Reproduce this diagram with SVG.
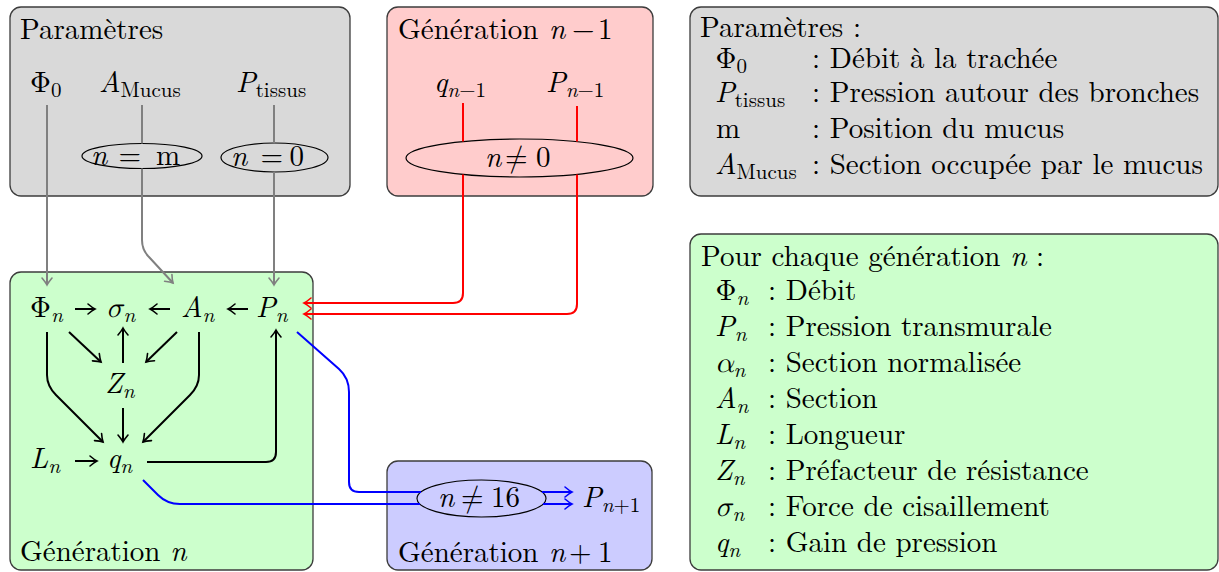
<svg xmlns="http://www.w3.org/2000/svg" width="1219" height="572" viewBox="0 0 1219 572">
<style>
text { font-size: 29px; fill: #000; }
.i { font-style: italic; }
.s { font-size: 21px; }
.box { stroke: #3c3c3c; stroke-width: 1.3; }
.gray { fill: #d9d9d9; }
.red { fill: #ffcccc; }
.green { fill: #ccffcc; }
.blue { fill: #ccccff; }
.ell { fill: none; stroke: #000; stroke-width: 1.2; }
.c { fill: none; stroke-width: 2; stroke-linejoin: round; }
.cg { stroke: #808080; }
.ck { stroke: #000; }
.cr { stroke: #ff0000; }
.cb { stroke: #0000ff; }
</style>
<defs>
<marker id="ag" markerUnits="userSpaceOnUse" viewBox="-9 -7 11 14" refX="0" refY="0" markerWidth="11" markerHeight="14" orient="auto" overflow="visible">
<path d="M-7,-5 Q-2.5,-1.2 0,0 Q-2.5,1.2 -7,5" fill="none" stroke="#808080" stroke-width="1.6" stroke-linecap="round"/>
</marker>
<marker id="ak" markerUnits="userSpaceOnUse" viewBox="-9 -7 11 14" refX="0" refY="0" markerWidth="11" markerHeight="14" orient="auto" overflow="visible">
<path d="M-7,-5 Q-2.5,-1.2 0,0 Q-2.5,1.2 -7,5" fill="none" stroke="#000" stroke-width="1.6" stroke-linecap="round"/>
</marker>
<marker id="ar" markerUnits="userSpaceOnUse" viewBox="-9 -7 11 14" refX="0" refY="0" markerWidth="11" markerHeight="14" orient="auto" overflow="visible">
<path d="M-7,-5 Q-2.5,-1.2 0,0 Q-2.5,1.2 -7,5" fill="none" stroke="#ff0000" stroke-width="1.6" stroke-linecap="round"/>
</marker>
<marker id="ab" markerUnits="userSpaceOnUse" viewBox="-9 -7 11 14" refX="0" refY="0" markerWidth="11" markerHeight="14" orient="auto" overflow="visible">
<path d="M-7,-5 Q-2.5,-1.2 0,0 Q-2.5,1.2 -7,5" fill="none" stroke="#0000ff" stroke-width="1.6" stroke-linecap="round"/>
</marker>
</defs>

<g font-family="Latin Modern Roman, CMU Serif, Liberation Serif, serif">
<g id="params">
<rect class="box gray" x="10" y="7" width="340" height="189" rx="11"/>
<text x="20" y="39">Paramètres</text>
<g id="phi0"><text><tspan x="30" y="92">Φ</tspan><tspan class="s" y="97">0</tspan></text></g>
<g id="a-mucus"><text><tspan class="i" x="99" y="92">A</tspan><tspan class="s" y="97">Mucus</tspan></text></g>
<g id="p-tissus"><text><tspan class="i" x="236" y="92">P</tspan><tspan class="s" y="97">tissus</tspan></text></g>
<g id="cond-m"><ellipse class="ell" cx="142" cy="156" rx="60" ry="12.5"/><text y="165"><tspan class="i" x="91">n</tspan><tspan x="118.5">=</tspan><tspan x="156">m</tspan></text></g>
<g id="cond-0"><ellipse class="ell" cx="274.5" cy="157.5" rx="53.5" ry="14.5"/><text y="166"><tspan class="i" x="231">n</tspan><tspan x="260.5">=</tspan><tspan x="289.5">0</tspan></text></g>
</g>

<g id="gen-prev">
<rect class="box red" x="387" y="7" width="266" height="189" rx="11"/>
<text y="39"><tspan x="398">Génération</tspan><tspan class="i" x="549">n</tspan><tspan x="572">−</tspan><tspan x="598">1</tspan></text>
<g id="q-prev"><text><tspan class="i" x="434" y="92">q</tspan><tspan class="s i" y="97">n</tspan><tspan class="s" y="97">−1</tspan></text></g>
<g id="p-prev"><text><tspan class="i" x="546" y="92">P</tspan><tspan class="s i" y="97">n</tspan><tspan class="s" y="97">−1</tspan></text></g>
<g id="cond-ne0"><ellipse class="ell" cx="519.5" cy="158" rx="113.5" ry="19"/><text y="167"><tspan class="i" x="485">n</tspan><tspan font-family="Latin Modern Math, DejaVu Serif, serif" x="505">≠</tspan><tspan x="536">0</tspan></text></g>
</g>

<g id="legend-params">
<rect class="box gray" x="690" y="7" width="528" height="189" rx="11"/>
<text x="700" y="37">Paramètres :</text>
<text><tspan x="715.5" y="68">Φ</tspan><tspan class="s" y="73">0</tspan></text>
<text x="812" y="68">: Débit à la trachée</text>
<text><tspan class="i" x="715" y="102">P</tspan><tspan class="s" y="107">tissus</tspan></text>
<text x="812" y="102">: Pression autour des bronches</text>
<text x="716" y="138">m</text>
<text x="812" y="138">: Position du mucus</text>
<text><tspan class="i" x="715" y="174">A</tspan><tspan class="s" y="179">Mucus</tspan></text>
<text x="812" y="174">: Section occupée par le mucus</text>
</g>

<g id="legend-gen">
<rect class="box green" x="690" y="234" width="528" height="336" rx="11"/>
<text x="701" y="266">Pour chaque génération <tspan class="i">n</tspan> :</text>
<text><tspan x="715.5" y="300">Φ</tspan><tspan class="s i" y="305">n</tspan></text>
<text x="768" y="300">: Débit</text>
<text><tspan class="i" x="715" y="336">P</tspan><tspan class="s i" y="341">n</tspan></text>
<text x="768" y="336">: Pression transmurale</text>
<text><tspan class="i" font-family="Latin Modern Math, Liberation Serif, serif" x="715" y="372">α</tspan><tspan class="s i" y="377">n</tspan></text>
<text x="768" y="372">: Section normalisée</text>
<text><tspan class="i" x="715" y="408">A</tspan><tspan class="s i" y="413">n</tspan></text>
<text x="768" y="408">: Section</text>
<text><tspan class="i" x="715" y="444">L</tspan><tspan class="s i" y="449">n</tspan></text>
<text x="768" y="444">: Longueur</text>
<text><tspan class="i" x="715" y="480">Z</tspan><tspan class="s i" y="485">n</tspan></text>
<text x="768" y="480">: Préfacteur de résistance</text>
<text><tspan class="i" font-family="Latin Modern Math, Liberation Serif, serif" x="715" y="516">σ</tspan><tspan class="s i" y="521">n</tspan></text>
<text x="768" y="516">: Force de cisaillement</text>
<text><tspan class="i" x="715" y="552">q</tspan><tspan class="s i" y="557">n</tspan></text>
<text x="768" y="552">: Gain de pression</text>
</g>

<g id="gen-n">
<rect class="box green" x="10" y="272" width="303" height="298" rx="11"/>
<text x="20" y="561">Génération <tspan class="i">n</tspan></text>
<g id="phi-n"><text><tspan x="30" y="317">Φ</tspan><tspan class="s i" y="322">n</tspan></text></g>
<g id="sigma-n"><text><tspan class="i" font-family="Latin Modern Math, Liberation Serif, serif" x="106" y="317">σ</tspan><tspan class="s i" y="322">n</tspan></text></g>
<g id="a-n"><text><tspan class="i" x="181" y="317">A</tspan><tspan class="s i" y="322">n</tspan></text></g>
<g id="p-n"><text><tspan class="i" x="256" y="317">P</tspan><tspan class="s i" y="322">n</tspan></text></g>
<g id="z-n"><text><tspan class="i" x="105" y="393">Z</tspan><tspan class="s i" y="398">n</tspan></text></g>
<g id="l-n"><text><tspan class="i" x="30" y="468">L</tspan><tspan class="s i" y="473">n</tspan></text></g>
<g id="q-n"><text><tspan class="i" x="107" y="468">q</tspan><tspan class="s i" y="473">n</tspan></text></g>
</g>

<g id="gen-next">
<rect class="box blue" x="387" y="461" width="265" height="109" rx="11"/>
<text y="562"><tspan x="398">Génération</tspan><tspan class="i" x="549">n</tspan><tspan x="569">+</tspan><tspan x="598">1</tspan></text>
<g id="cond-ne16"><ellipse class="ell" cx="481.5" cy="498.5" rx="64.5" ry="18.5"/><text y="507"><tspan class="i" x="438">n</tspan><tspan font-family="Latin Modern Math, DejaVu Serif, serif" x="461">≠</tspan><tspan x="491">16</tspan></text></g>
<g id="p-next"><text><tspan class="i" x="582" y="507">P</tspan><tspan class="s i" y="512">n</tspan><tspan class="s" y="512">+1</tspan></text></g>
</g>
</g>

<g id="connectors">
<path class="c cg" d="M47 105 L47 285" marker-end="url(#ag)"/>
<path class="c cg" d="M142 105 L142 143.5"/>
<path class="c cg" d="M142 168.5 L142 240 Q142 250 149 257 L173 283" marker-end="url(#ag)"/>
<path class="c cg" d="M274 105 L274 143"/>
<path class="c cg" d="M274 172 L274 285" marker-end="url(#ag)"/>

<path class="c ck" d="M75 309 L95 309" marker-end="url(#ak)"/>
<path class="c ck" d="M170 309 L150 309" marker-end="url(#ak)"/>
<path class="c ck" d="M248 309 L228 309" marker-end="url(#ak)"/>
<path class="c ck" d="M75 461 L97 461" marker-end="url(#ak)"/>
<path class="c ck" d="M69 332 L101 362" marker-end="url(#ak)"/>
<path class="c ck" d="M123 363 L123 328" marker-end="url(#ak)"/>
<path class="c ck" d="M177 332 L146 362" marker-end="url(#ak)"/>
<path class="c ck" d="M123 408 L123 442" marker-end="url(#ak)"/>
<path class="c ck" d="M47 332 L47 375 Q47 386 56 395 L103 442" marker-end="url(#ak)"/>
<path class="c ck" d="M199 332 L199 375 Q199 386 190 395 L143 442" marker-end="url(#ak)"/>
<path class="c ck" d="M147 462 L266 462 Q276 462 276 452 L276 330" marker-end="url(#ak)"/>

<path class="c cr" d="M463 103 L463 141.5"/>
<path class="c cr" d="M463 174.5 L463 293 Q463 303 453 303 L304 303" marker-end="url(#ar)"/>
<path class="c cr" d="M577 106 L577 141.5"/>
<path class="c cr" d="M577 174.5 L577 304 Q577 314 567 314 L304 314" marker-end="url(#ar)"/>

<path class="c cb" d="M297 332 L339 369 Q349 378 349 392 L349 482 Q349 492 359 492 L421 492"/>
<path class="c cb" d="M542 492 L572 492" marker-end="url(#ab)"/>
<path class="c cb" d="M143 480 L158 495 Q167 504 180 504 L420 504"/>
<path class="c cb" d="M543 504 L572 504" marker-end="url(#ab)"/>
</g>
</svg>
